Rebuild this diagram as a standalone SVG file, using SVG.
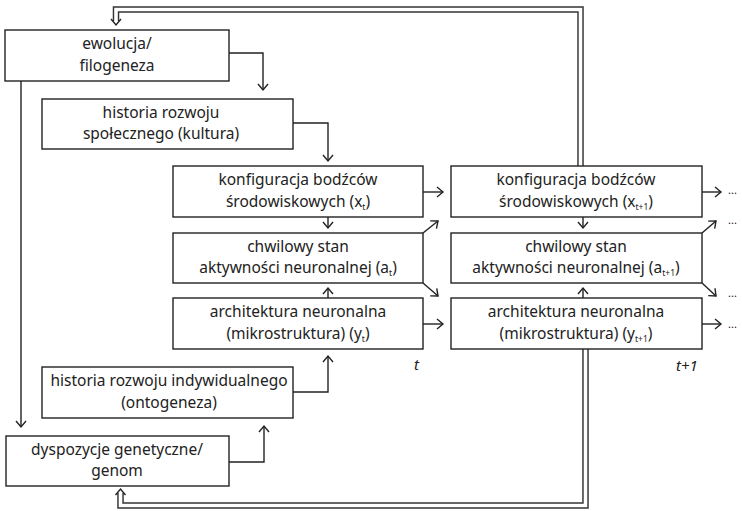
<svg xmlns="http://www.w3.org/2000/svg" width="742" height="511" viewBox="0 0 742 511">
<defs>
<marker id="arr" markerUnits="userSpaceOnUse" markerWidth="14" markerHeight="14" viewBox="0 0 14 14" refX="11" refY="7" orient="auto">
<path d="M5,2 L11,7 L5,12" fill="none" stroke="#222" stroke-width="1.4"/>
</marker>
</defs>
<style>
.box{fill:#fff;stroke:#222;stroke-width:1.4}
.t{font-family:"Noto Sans","Liberation Sans",sans-serif;font-size:15.5px;fill:#222;text-anchor:middle}
.sub{font-size:8.5px}
.c{fill:none;stroke:#222;stroke-width:1.4}
.dblo{fill:none;stroke:#333;stroke-width:6.5}
.dbli{fill:none;stroke:#fff;stroke-width:3.6}
.lbl{font-family:"Noto Sans","Liberation Sans",sans-serif;font-size:15px;font-style:italic;fill:#222}
.dots{font-family:"Noto Sans","Liberation Sans",sans-serif;font-size:11px;fill:#222}
</style>
<rect width="742" height="511" fill="#fff"/>

<g id="connectors">
<path class="dblo" d="M580.5,166 V9.5 H116 V21"/>
<path class="dbli" d="M580.5,167 V9.5 H116 V21.5"/>
<path class="c" d="M111,19 L116,25 L121,19"/>
<path class="dblo" d="M585.5,349 V505.5 H120.5 V493"/>
<path class="dbli" d="M585.5,348 V505.5 H120.5 V492.5"/>
<path class="c" d="M115.5,495 L120.5,489 L125.5,495"/>
<path class="c" d="M229,53 H263 V90" marker-end="url(#arr)"/>
<path class="c" d="M293,123 H328 V161" marker-end="url(#arr)"/>
<path class="c" d="M21,81 V427" marker-end="url(#arr)"/>
<path class="c" d="M229,462 H264 V426" marker-end="url(#arr)"/>
<path class="c" d="M293,392 H328 V356" marker-end="url(#arr)"/>
<path class="c" d="M328,217 V228" marker-end="url(#arr)"/>
<path class="c" d="M328,298 V288" marker-end="url(#arr)"/>
<path class="c" d="M583,217 V228" marker-end="url(#arr)"/>
<path class="c" d="M583,298 V288" marker-end="url(#arr)"/>
<path class="c" d="M423,192 H443" marker-end="url(#arr)"/>
<path class="c" d="M423,324 H443" marker-end="url(#arr)"/>
<path class="c" d="M423,233 L438,221" marker-end="url(#arr)"/>
<path class="c" d="M423,283 L438,296" marker-end="url(#arr)"/>
<path class="c" d="M702,192 H721" marker-end="url(#arr)"/>
<path class="c" d="M702,324 H721" marker-end="url(#arr)"/>
<path class="c" d="M702,233 L716,221" marker-end="url(#arr)"/>
<path class="c" d="M702,283 L716,296" marker-end="url(#arr)"/>
</g>

<g id="ewolucja">
<rect class="box" x="5" y="30" width="224" height="51"/>
<text class="t" x="117" y="49">ewolucja/<tspan x="117" dy="21.5">filogeneza</tspan></text>
</g>
<g id="spoleczny">
<rect class="box" x="42" y="99" width="251" height="50"/>
<text class="t" x="161" y="117.5">historia rozwoju<tspan x="161" dy="21.5">społecznego (kultura)</tspan></text>
</g>
<g id="konfig_t">
<rect class="box" x="173" y="166" width="250" height="51"/>
<text class="t" x="298" y="185">konfiguracja bodźców<tspan x="298" dy="21.5">środowiskowych (x</tspan><tspan class="sub" dy="3">t</tspan><tspan dy="-3">)</tspan></text>
</g>
<g id="chwilowy_t">
<rect class="box" x="173" y="233" width="250" height="50"/>
<text class="t" x="298" y="251.5">chwilowy stan<tspan x="298" dy="21.5">aktywności neuronalnej (a</tspan><tspan class="sub" dy="3">t</tspan><tspan dy="-3">)</tspan></text>
</g>
<g id="arch_t">
<rect class="box" x="173" y="298" width="250" height="51"/>
<text class="t" x="298" y="317">architektura neuronalna<tspan x="298" dy="21.5">(mikrostruktura) (y</tspan><tspan class="sub" dy="3">t</tspan><tspan dy="-3">)</tspan></text>
</g>
<g id="konfig_t1">
<rect class="box" x="451" y="166" width="251" height="51"/>
<text class="t" x="576" y="185">konfiguracja bodźców<tspan x="576" dy="21.5">środowiskowych (x</tspan><tspan class="sub" dy="3">t+1</tspan><tspan dy="-3">)</tspan></text>
</g>
<g id="chwilowy_t1">
<rect class="box" x="451" y="233" width="251" height="50"/>
<text class="t" x="576" y="251.5">chwilowy stan<tspan x="576" dy="21.5">aktywności neuronalnej (a</tspan><tspan class="sub" dy="3">t+1</tspan><tspan dy="-3">)</tspan></text>
</g>
<g id="arch_t1">
<rect class="box" x="451" y="298" width="251" height="51"/>
<text class="t" x="576" y="317">architektura neuronalna<tspan x="576" dy="21.5">(mikrostruktura) (y</tspan><tspan class="sub" dy="3">t+1</tspan><tspan dy="-3">)</tspan></text>
</g>
<g id="ontogeneza">
<rect class="box" x="42" y="367" width="251" height="51"/>
<text class="t" x="169" y="386">historia rozwoju indywidualnego<tspan x="169" dy="21.5">(ontogeneza)</tspan></text>
</g>
<g id="genom">
<rect class="box" x="6" y="436" width="223" height="50"/>
<text class="t" x="117" y="454.5">dyspozycje genetyczne/<tspan x="117" dy="21.5">genom</tspan></text>
</g>

<g id="labels">
<text class="lbl" x="414" y="370">t</text>
<text class="lbl" x="676" y="371">t+1</text>
<text class="dots" x="728" y="194">...</text>
<text class="dots" x="728" y="224">...</text>
<text class="dots" x="728" y="297">...</text>
<text class="dots" x="728" y="328">...</text>
</g>
</svg>
